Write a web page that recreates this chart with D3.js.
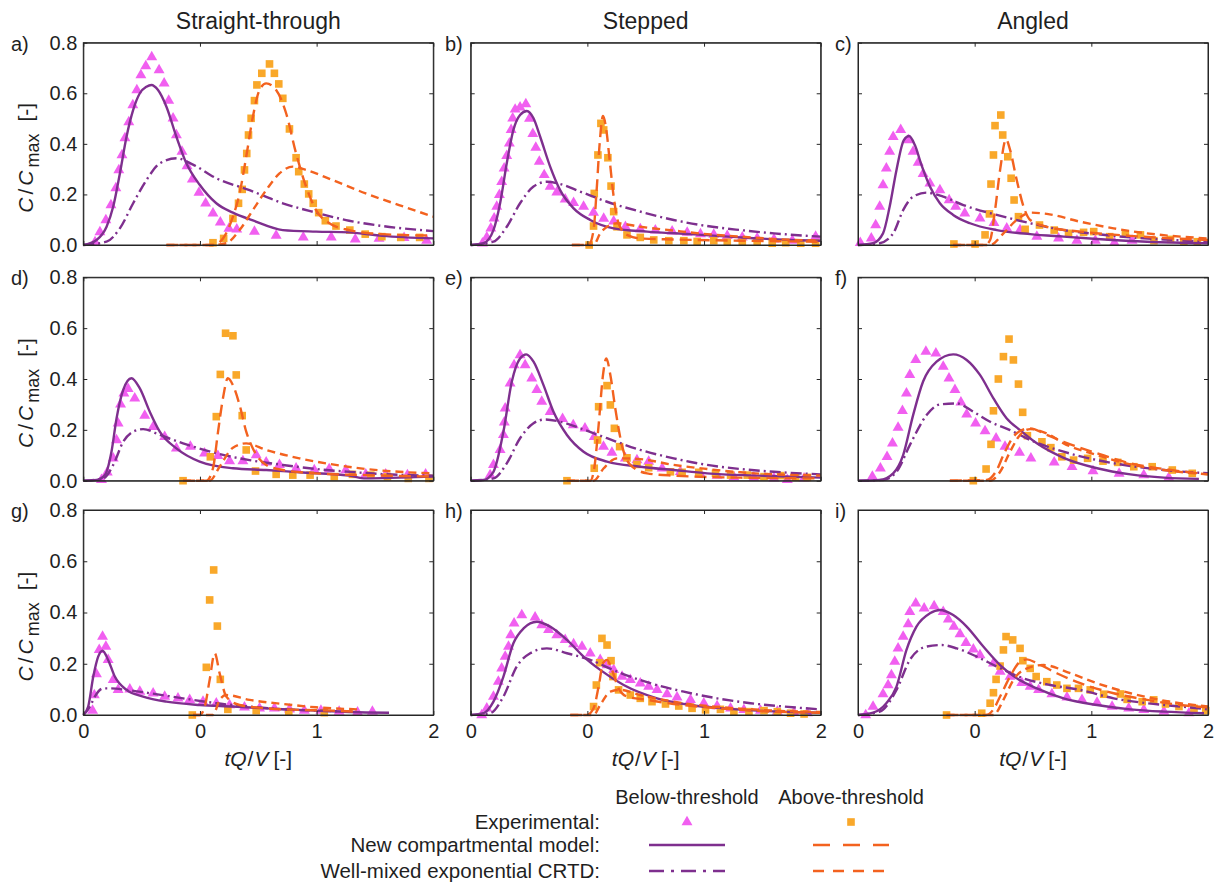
<!DOCTYPE html>
<html>
<head>
<meta charset="utf-8">
<script src="https://cdn.jsdelivr.net/npm/d3@7"></script>
<style>
  body { margin: 0; background: #fff; }
  svg { display: block; }
  text { font-family: "Liberation Sans", Arial, Helvetica, sans-serif; fill: #1f1f1f; }
</style>
</head>
<body>
<svg id="fig" width="1217" height="886"></svg>
<script>
// ---- axis ticks and labels ----
const xTickValues = [0, 2 / 3, 4 / 3, 2];
const xTickLabels = ["0", "0", "1", "2"];
const yTickValues = [0, 0.2, 0.4, 0.6, 0.8];
const columnTitles = ["Straight-through", "Stepped", "Angled"];
const panelLetters = ["a)", "b)", "c)", "d)", "e)", "f)", "g)", "h)", "i)"];

// ---- panel a: straight-through ----
const aExpBelow = [[0.067,0.012],[0.095,0.051],[0.129,0.099],[0.158,0.158],[0.186,0.225],[0.203,0.296],[0.221,0.356],[0.238,0.423],[0.260,0.486],[0.283,0.553],[0.306,0.613],[0.329,0.672],[0.357,0.708],[0.391,0.743],[0.433,0.692],[0.462,0.639],[0.488,0.571],[0.513,0.501],[0.532,0.435],[0.564,0.369],[0.593,0.312],[0.623,0.260],[0.661,0.207],[0.699,0.165],[0.741,0.125],[0.783,0.090],[0.832,0.065],[0.877,0.062],[0.978,0.053],[1.102,0.037],[1.257,0.030],[1.417,0.030],[1.554,0.022],[1.690,0.025],[1.833,0.028],[1.962,0.017]];
const aExpAbove = [[0.741,0.009],[0.802,0.026],[0.855,0.105],[0.887,0.165],[0.908,0.220],[0.921,0.297],[0.934,0.362],[0.944,0.435],[0.959,0.501],[0.978,0.571],[0.992,0.633],[1.020,0.679],[1.064,0.716],[1.092,0.679],[1.117,0.637],[1.140,0.580],[1.178,0.459],[1.216,0.345],[1.231,0.290],[1.263,0.241],[1.288,0.202],[1.314,0.165],[1.345,0.128],[1.383,0.096],[1.444,0.075],[1.523,0.059],[1.611,0.043],[1.706,0.033],[1.814,0.030],[1.922,0.030]];
const aModelBelow = [[0,0],[0.076,0.020],[0.133,0.072],[0.171,0.152],[0.209,0.283],[0.247,0.428],[0.285,0.534],[0.323,0.600],[0.361,0.626],[0.389,0.633],[0.427,0.613],[0.475,0.547],[0.532,0.428],[0.589,0.323],[0.665,0.238],[0.760,0.165],[0.855,0.128],[0.969,0.097],[1.140,0.059],[1.330,0.053],[1.519,0.050],[1.709,0.036],[2.0,0.026]];
const aMixedBelow = [[0,0],[0.133,0.013],[0.209,0.066],[0.285,0.165],[0.361,0.257],[0.437,0.323],[0.532,0.343],[0.627,0.318],[0.760,0.264],[0.950,0.217],[1.140,0.165],[1.330,0.128],[1.519,0.096],[1.709,0.075],[2.0,0.055]];
const aModelAbove = [[0.475,0],[0.741,0],[0.798,0.026],[0.855,0.112],[0.893,0.204],[0.931,0.349],[0.969,0.507],[1.007,0.613],[1.045,0.639],[1.102,0.613],[1.159,0.521],[1.216,0.362],[1.273,0.231],[1.330,0.138],[1.406,0.086],[1.519,0.059],[1.709,0.043],[2.0,0.037]];
const aMixedAbove = [[0.475,0],[0.741,0],[0.817,0.007],[0.893,0.059],[0.969,0.138],[1.045,0.217],[1.121,0.283],[1.197,0.310],[1.273,0.297],[1.424,0.257],[1.614,0.204],[1.804,0.158],[2.0,0.112]];

// ---- panel b: stepped ----
const bExpBelow = [[0.067,0.007],[0.092,0.030],[0.115,0.066],[0.134,0.105],[0.149,0.152],[0.164,0.198],[0.177,0.250],[0.191,0.303],[0.206,0.353],[0.221,0.402],[0.231,0.455],[0.240,0.501],[0.254,0.536],[0.282,0.544],[0.315,0.557],[0.336,0.500],[0.355,0.440],[0.372,0.385],[0.392,0.330],[0.420,0.277],[0.454,0.231],[0.492,0.208],[0.540,0.181],[0.588,0.167],[0.645,0.152],[0.702,0.128],[0.760,0.104],[0.817,0.094],[0.884,0.072],[0.969,0.063],[1.055,0.058],[1.151,0.054],[1.237,0.049],[1.313,0.043],[1.389,0.041],[1.466,0.036],[1.552,0.030],[1.637,0.026],[1.733,0.022],[1.838,0.017],[1.971,0.033]];
const bExpAbove = [[0.677,0.0],[0.702,0.075],[0.706,0.204],[0.727,0.356],[0.744,0.481],[0.760,0.455],[0.784,0.345],[0.802,0.233],[0.817,0.132],[0.836,0.072],[0.893,0.040],[0.969,0.030],[1.046,0.020],[1.132,0.017],[1.218,0.017],[1.294,0.014],[1.389,0.017],[1.466,0.011],[1.552,0.011],[1.637,0.011],[1.723,0.007],[1.800,0.009],[1.886,0.007],[1.971,0.007]];
const bModelBelow = [[0,0],[0.073,0.007],[0.130,0.059],[0.168,0.165],[0.206,0.323],[0.244,0.455],[0.282,0.514],[0.321,0.530],[0.359,0.501],[0.397,0.428],[0.454,0.310],[0.511,0.217],[0.588,0.145],[0.683,0.099],[0.817,0.066],[1.008,0.053],[1.256,0.043],[1.542,0.030],[1.828,0.020],[2.0,0.017]];
const bMixedBelow = [[0,0],[0.130,0.013],[0.206,0.072],[0.282,0.165],[0.359,0.231],[0.435,0.250],[0.511,0.241],[0.626,0.211],[0.779,0.171],[0.969,0.132],[1.160,0.099],[1.351,0.075],[1.542,0.059],[1.733,0.046],[2.0,0.033]];
const bModelAbove = [[0.578,0],[0.674,0],[0.702,0.059],[0.721,0.231],[0.737,0.402],[0.756,0.510],[0.775,0.455],[0.794,0.336],[0.817,0.191],[0.845,0.086],[0.893,0.040],[0.969,0.026],[1.160,0.022],[1.542,0.017],[2.0,0.013]];
const bMixedAbove = [[0.578,0],[0.702,0],[0.740,0.046],[0.779,0.072],[0.836,0.086],[0.969,0.072],[1.160,0.057],[1.351,0.043],[1.542,0.033],[1.733,0.024],[2.0,0.017]];

// ---- panel c: angled ----
const cExpBelow = [[0.013,0.009],[0.076,0.026],[0.101,0.079],[0.124,0.152],[0.143,0.237],[0.162,0.303],[0.181,0.369],[0.201,0.428],[0.244,0.455],[0.287,0.415],[0.315,0.369],[0.344,0.326],[0.372,0.281],[0.411,0.244],[0.468,0.217],[0.521,0.178],[0.558,0.152],[0.610,0.125],[0.697,0.105],[0.777,0.088],[0.850,0.066],[0.926,0.059],[1.022,0.033],[1.146,0.026],[1.251,0.017],[1.356,0.017],[1.465,0.009],[1.566,0.017]];
const cExpAbove = [[0.548,0.004],[0.669,0.004],[0.726,0.040],[0.751,0.123],[0.760,0.241],[0.774,0.356],[0.783,0.472],[0.816,0.514],[0.827,0.435],[0.856,0.349],[0.875,0.264],[0.892,0.178],[0.917,0.112],[0.955,0.062],[1.037,0.079],[1.121,0.059],[1.203,0.046],[1.289,0.050],[1.347,0.053],[1.438,0.033],[1.528,0.043],[1.614,0.040],[1.691,0.017],[1.786,0.022],[1.862,0.013],[1.939,0.013]];
const cModelBelow = [[0,0],[0.086,0.007],[0.143,0.046],[0.181,0.152],[0.220,0.297],[0.262,0.415],[0.292,0.431],[0.325,0.395],[0.363,0.316],[0.411,0.231],[0.468,0.165],[0.544,0.119],[0.640,0.086],[0.793,0.059],[0.984,0.043],[1.175,0.033],[1.366,0.024],[1.652,0.013],[2.0,0.007]];
const cMixedBelow = [[0,0],[0.124,0.007],[0.201,0.046],[0.258,0.138],[0.315,0.191],[0.392,0.207],[0.487,0.191],[0.602,0.158],[0.793,0.119],[0.984,0.086],[1.175,0.059],[1.366,0.043],[1.557,0.030],[1.748,0.022],[2.0,0.013]];
const cModelAbove = [[0.544,0],[0.726,0],[0.755,0.020],[0.783,0.138],[0.812,0.297],[0.846,0.418],[0.869,0.376],[0.907,0.257],[0.946,0.152],[0.984,0.099],[1.079,0.072],[1.270,0.053],[1.557,0.036],[2.0,0.020]];
const cMixedAbove = [[0.544,0],[0.755,0],[0.831,0.046],[0.907,0.099],[0.984,0.128],[1.079,0.123],[1.270,0.092],[1.461,0.066],[1.652,0.046],[2.0,0.026]];

// ---- panel d: straight-through ----
const dExpBelow = [[0.104,0.003],[0.137,0.033],[0.171,0.088],[0.190,0.160],[0.199,0.226],[0.213,0.300],[0.232,0.344],[0.256,0.361],[0.294,0.324],[0.351,0.256],[0.399,0.212],[0.465,0.173],[0.532,0.127],[0.612,0.134],[0.693,0.108],[0.769,0.098],[0.836,0.077],[0.912,0.077],[0.988,0.101],[1.045,0.072],[1.121,0.062],[1.216,0.049],[1.320,0.042],[1.405,0.046],[1.500,0.042],[1.614,0.025],[1.728,0.025],[1.852,0.022],[1.956,0.025]];
const dExpAbove = [[0.570,0.0],[0.726,0.094],[0.760,0.252],[0.783,0.418],[0.813,0.580],[0.855,0.570],[0.874,0.416],[0.908,0.256],[0.931,0.121],[0.984,0.038],[1.102,0.025],[1.197,0.022],[1.296,0.022],[1.434,0.016],[1.538,0.025],[1.643,0.022],[1.738,0.016],[1.857,0.009],[1.975,0.009]];
const dModelBelow = [[0,0],[0.076,0.003],[0.123,0.022],[0.161,0.114],[0.190,0.245],[0.228,0.357],[0.275,0.403],[0.323,0.363],[0.380,0.271],[0.437,0.193],[0.532,0.127],[0.665,0.075],[0.855,0.049],[1.045,0.042],[1.235,0.033],[1.519,0.020],[1.614,0.009],[1.804,0.012],[2.0,0.016]];
const dMixedBelow = [[0,0],[0.114,0.009],[0.171,0.062],[0.228,0.153],[0.285,0.193],[0.342,0.203],[0.437,0.180],[0.570,0.147],[0.760,0.108],[0.950,0.081],[1.140,0.062],[1.330,0.046],[1.519,0.035],[1.709,0.026],[2.0,0.020]];
const dModelAbove = [[0.570,0],[0.703,0],[0.741,0.049],[0.770,0.193],[0.798,0.324],[0.826,0.403],[0.855,0.376],[0.893,0.298],[0.931,0.193],[0.969,0.127],[1.045,0.062],[1.140,0.042],[1.330,0.029],[1.614,0.022],[2.0,0.016]];
const dMixedAbove = [[0.570,0],[0.722,0],[0.779,0.055],[0.855,0.130],[0.931,0.147],[1.045,0.121],[1.235,0.088],[1.424,0.064],[1.614,0.046],[1.804,0.035],[2.0,0.029]];

// ---- panel e: stepped ----
const eExpBelow = [[0.111,0.022],[0.130,0.062],[0.168,0.121],[0.187,0.180],[0.192,0.230],[0.197,0.285],[0.225,0.383],[0.248,0.455],[0.282,0.494],[0.311,0.455],[0.349,0.403],[0.378,0.357],[0.406,0.311],[0.454,0.271],[0.525,0.243],[0.586,0.219],[0.653,0.206],[0.706,0.173],[0.759,0.134],[0.807,0.111],[0.884,0.088],[0.950,0.081],[1.017,0.075],[1.094,0.049],[1.198,0.035],[1.313,0.025],[1.408,0.020],[1.504,0.014],[1.618,0.012],[1.733,0.009],[1.809,0.003],[1.905,0.009]];
const eExpAbove = [[0.550,0],[0.706,0.049],[0.725,0.160],[0.731,0.291],[0.779,0.374],[0.798,0.298],[0.821,0.206],[0.851,0.134],[0.893,0.090],[0.950,0.064],[1.017,0.051],[1.141,0.035],[1.208,0.033],[1.303,0.033],[1.399,0.029],[1.485,0.022],[1.580,0.022],[1.676,0.016],[1.771,0.020],[1.857,0.013],[1.924,0.013]];
const eModelBelow = [[0,0],[0.073,0.003],[0.130,0.035],[0.187,0.193],[0.235,0.390],[0.282,0.481],[0.317,0.497],[0.359,0.468],[0.416,0.376],[0.473,0.271],[0.550,0.180],[0.645,0.114],[0.779,0.075],[0.969,0.055],[1.160,0.042],[1.351,0.029],[1.637,0.020],[2.0,0.012]];
const eMixedBelow = [[0,0],[0.130,0.009],[0.206,0.068],[0.282,0.167],[0.359,0.226],[0.426,0.241],[0.511,0.232],[0.626,0.206],[0.779,0.167],[0.969,0.121],[1.160,0.088],[1.351,0.062],[1.542,0.046],[1.733,0.035],[2.0,0.025]];
const eModelAbove = [[0.550,0],[0.683,0],[0.706,0.049],[0.731,0.219],[0.756,0.416],[0.775,0.481],[0.798,0.416],[0.826,0.285],[0.864,0.140],[0.912,0.062],[1.008,0.029],[1.160,0.020],[1.542,0.012],[2.0,0.009]];
const eMixedAbove = [[0.550,0],[0.702,0],[0.760,0.049],[0.836,0.088],[0.969,0.085],[1.160,0.062],[1.351,0.046],[1.542,0.033],[1.733,0.025],[2.0,0.020]];

// ---- panel f: angled ----
const fExpBelow = [[0.082,0.016],[0.128,0.049],[0.166,0.094],[0.197,0.147],[0.229,0.209],[0.254,0.275],[0.277,0.344],[0.296,0.416],[0.330,0.475],[0.388,0.508],[0.445,0.501],[0.487,0.449],[0.520,0.403],[0.554,0.357],[0.588,0.308],[0.621,0.261],[0.672,0.226],[0.726,0.195],[0.789,0.167],[0.840,0.134],[0.923,0.111],[0.988,0.088],[1.121,0.072],[1.223,0.055],[1.343,0.038],[1.492,0.028],[1.633,0.022],[1.776,0.012]];
const fExpAbove = [[0.659,0],[0.732,0.046],[0.760,0.143],[0.774,0.275],[0.802,0.400],[0.831,0.488],[0.863,0.557],[0.888,0.475],[0.917,0.380],[0.941,0.269],[0.968,0.177],[1.051,0.153],[1.102,0.130],[1.165,0.094],[1.232,0.081],[1.312,0.088],[1.400,0.077],[1.484,0.072],[1.576,0.055],[1.681,0.055],[1.796,0.042],[1.910,0.029]];
const fModelBelow = [[0,0],[0.124,0.003],[0.201,0.029],[0.258,0.101],[0.315,0.258],[0.372,0.390],[0.449,0.468],[0.544,0.497],[0.621,0.475],[0.697,0.416],[0.774,0.324],[0.850,0.245],[0.926,0.199],[1.022,0.147],[1.175,0.090],[1.366,0.049],[1.557,0.025],[1.748,0.012],[1.948,0.007]];
const fMixedBelow = [[0,0],[0.143,0.003],[0.220,0.035],[0.296,0.140],[0.392,0.258],[0.468,0.300],[0.564,0.304],[0.659,0.271],[0.755,0.232],[0.869,0.199],[0.984,0.160],[1.175,0.114],[1.366,0.081],[1.557,0.058],[1.748,0.042],[2.0,0.029]];
const fModelAbove = [[0.525,0],[0.735,0.003],[0.793,0.042],[0.831,0.101],[0.888,0.173],[0.936,0.199],[0.984,0.206],[1.079,0.180],[1.175,0.153],[1.366,0.108],[1.557,0.068],[1.748,0.046],[2.0,0.025]];
const fMixedAbove = [[0.525,0],[0.755,0],[0.812,0.035],[0.869,0.114],[0.926,0.180],[0.984,0.203],[1.079,0.186],[1.175,0.147],[1.366,0.101],[1.557,0.064],[1.748,0.042],[2.0,0.025]];

// ---- panel g: straight-through ----
const gExpBelow = [[0.053,0.017],[0.063,0.078],[0.075,0.160],[0.091,0.254],[0.110,0.306],[0.129,0.267],[0.142,0.215],[0.171,0.137],[0.199,0.098],[0.266,0.100],[0.323,0.091],[0.399,0.085],[0.465,0.072],[0.541,0.065],[0.608,0.059],[0.684,0.052],[0.760,0.046],[0.836,0.039],[0.921,0.030],[1.007,0.026],[1.092,0.026],[1.178,0.022],[1.263,0.017],[1.358,0.017],[1.462,0.013],[1.567,0.010],[1.652,0.013]];
const gExpAbove = [[0.623,0],[0.703,0.186],[0.722,0.449],[0.745,0.566],[0.766,0.347],[0.783,0.139],[0.826,0.022],[0.988,0.017],[1.174,0.013],[1.377,0.009]];
const gModelBelow = [[0,0],[0.028,0.033],[0.057,0.150],[0.085,0.228],[0.110,0.251],[0.142,0.215],[0.180,0.150],[0.247,0.098],[0.342,0.072],[0.475,0.052],[0.665,0.039],[0.855,0.033],[1.045,0.026],[1.330,0.017],[1.614,0.010],[1.747,0.009]];
const gMixedBelow = [[0,0],[0.038,0.033],[0.066,0.072],[0.114,0.104],[0.152,0.104],[0.247,0.098],[0.380,0.085],[0.570,0.065],[0.760,0.046],[0.950,0.033],[1.140,0.022],[1.330,0.017],[1.538,0.013]];
const gModelAbove = [[0.627,0],[0.665,0],[0.694,0.033],[0.722,0.137],[0.751,0.241],[0.779,0.163],[0.817,0.072],[0.893,0.039],[1.045,0.026],[1.235,0.020],[1.425,0.017],[1.567,0.013]];
const gMixedAbove = [[0.627,0],[0.741,0],[0.779,0.059],[0.817,0.078],[0.950,0.059],[1.140,0.043],[1.330,0.030],[1.567,0.022]];

// ---- panel h: stepped ----
const hExpBelow = [[0.063,0],[0.092,0.026],[0.130,0.072],[0.158,0.130],[0.177,0.182],[0.197,0.228],[0.216,0.267],[0.229,0.312],[0.248,0.358],[0.292,0.390],[0.368,0.381],[0.406,0.351],[0.445,0.332],[0.492,0.312],[0.540,0.293],[0.588,0.277],[0.636,0.267],[0.683,0.241],[0.740,0.215],[0.779,0.195],[0.817,0.176],[0.865,0.150],[0.912,0.137],[0.969,0.124],[1.017,0.111],[1.065,0.098],[1.122,0.082],[1.179,0.069],[1.256,0.059],[1.332,0.046],[1.408,0.035],[1.485,0.026],[1.561,0.020],[1.656,0.017],[1.752,0.013],[1.847,0.009],[1.924,0.007]];
const hExpAbove = [[0.702,0.033],[0.718,0.117],[0.737,0.204],[0.750,0.299],[0.779,0.273],[0.802,0.212],[0.813,0.150],[0.845,0.098],[0.912,0.078],[0.969,0.065],[1.036,0.052],[1.113,0.043],[1.189,0.035],[1.265,0.026],[1.342,0.020],[1.427,0.022],[1.504,0.013],[1.590,0.013],[1.676,0.017],[1.752,0.013],[1.828,0.007],[1.905,0.004]];
const hModelBelow = [[0,0],[0.073,0.007],[0.130,0.052],[0.187,0.150],[0.244,0.280],[0.302,0.338],[0.378,0.364],[0.454,0.345],[0.550,0.293],[0.645,0.228],[0.740,0.176],[0.874,0.117],[1.065,0.065],[1.256,0.039],[1.447,0.026],[1.637,0.017],[2.0,0.009]];
const hMixedBelow = [[0,0],[0.111,0.007],[0.187,0.072],[0.263,0.189],[0.340,0.241],[0.435,0.260],[0.550,0.241],[0.683,0.215],[0.836,0.169],[1.027,0.124],[1.218,0.091],[1.408,0.065],[1.599,0.046],[1.790,0.033],[2.0,0.022]];
const hModelAbove = [[0.569,0],[0.664,0],[0.702,0.026],[0.731,0.111],[0.756,0.202],[0.779,0.215],[0.807,0.176],[0.845,0.104],[0.893,0.072],[1.008,0.059],[1.160,0.043],[1.351,0.030],[1.542,0.020],[1.733,0.013],[2.0,0.009]];
const hMixedAbove = [[0.569,0],[0.702,0],[0.740,0.039],[0.798,0.091],[0.855,0.098],[0.969,0.078],[1.160,0.052],[1.351,0.035],[1.542,0.025],[1.733,0.017],[2.0,0.012]];

// ---- panel i: angled ----
const iExpBelow = [[0.044,0],[0.086,0.033],[0.143,0.082],[0.172,0.117],[0.191,0.156],[0.210,0.208],[0.229,0.260],[0.258,0.306],[0.287,0.355],[0.296,0.403],[0.330,0.436],[0.378,0.416],[0.435,0.425],[0.487,0.403],[0.516,0.373],[0.548,0.345],[0.583,0.316],[0.617,0.282],[0.659,0.256],[0.697,0.234],[0.774,0.202],[0.812,0.169],[0.869,0.150],[0.936,0.126],[0.984,0.111],[1.032,0.098],[1.108,0.082],[1.194,0.069],[1.280,0.059],[1.366,0.048],[1.452,0.033],[1.547,0.026],[1.633,0.020],[1.748,0.013],[1.891,0.007]];
const iExpAbove = [[0.506,0],[0.707,0.007],[0.755,0.046],[0.774,0.087],[0.789,0.139],[0.812,0.191],[0.831,0.254],[0.846,0.306],[0.884,0.293],[0.926,0.260],[0.942,0.212],[0.984,0.182],[1.018,0.150],[1.079,0.130],[1.136,0.117],[1.194,0.104],[1.260,0.104],[1.327,0.098],[1.404,0.081],[1.500,0.082],[1.538,0.061],[1.624,0.052],[1.690,0.059],[1.757,0.043],[1.834,0.033],[1.920,0.026],[1.987,0.017]];
const iModelBelow = [[0,0],[0.086,0.009],[0.162,0.046],[0.220,0.111],[0.277,0.254],[0.334,0.345],[0.411,0.397],[0.468,0.410],[0.544,0.390],[0.621,0.345],[0.716,0.267],[0.812,0.195],[0.907,0.143],[1.022,0.104],[1.175,0.065],[1.366,0.039],[1.557,0.022],[1.748,0.013],[1.977,0.007]];
const iMixedBelow = [[0,0],[0.124,0.013],[0.220,0.098],[0.296,0.215],[0.392,0.267],[0.478,0.273],[0.564,0.260],[0.678,0.228],[0.793,0.189],[0.946,0.143],[1.098,0.117],[1.270,0.098],[1.461,0.065],[1.652,0.046],[1.843,0.033],[2.0,0.022]];
const iModelAbove = [[0.506,0],[0.735,0],[0.774,0.022],[0.812,0.072],[0.869,0.150],[0.926,0.208],[0.965,0.217],[1.022,0.202],[1.136,0.163],[1.270,0.124],[1.461,0.085],[1.652,0.059],[1.843,0.039],[2.0,0.030]];
const iMixedAbove = [[0.506,0],[0.774,0],[0.831,0.059],[0.888,0.137],[0.946,0.176],[1.060,0.195],[1.213,0.163],[1.366,0.124],[1.557,0.085],[1.748,0.056],[2.0,0.033]];

// ---- legend text ----
const legendHeaders = ["Below-threshold", "Above-threshold"];
const legendRows = ["Experimental:", "New compartmental model:", "Well-mixed exponential CRTD:"];

// panel table assembled from the arrays above
const panels = [
  [aExpBelow, aExpAbove, aModelBelow, aModelAbove, aMixedBelow, aMixedAbove],
  [bExpBelow, bExpAbove, bModelBelow, bModelAbove, bMixedBelow, bMixedAbove],
  [cExpBelow, cExpAbove, cModelBelow, cModelAbove, cMixedBelow, cMixedAbove],
  [dExpBelow, dExpAbove, dModelBelow, dModelAbove, dMixedBelow, dMixedAbove],
  [eExpBelow, eExpAbove, eModelBelow, eModelAbove, eMixedBelow, eMixedAbove],
  [fExpBelow, fExpAbove, fModelBelow, fModelAbove, fMixedBelow, fMixedAbove],
  [gExpBelow, gExpAbove, gModelBelow, gModelAbove, gMixedBelow, gMixedAbove],
  [hExpBelow, hExpAbove, hModelBelow, hModelAbove, hMixedBelow, hMixedAbove],
  [iExpBelow, iExpAbove, iModelBelow, iModelAbove, iMixedBelow, iMixedAbove]
].map((s, k) => ({
  letter: panelLetters[k],
  expBelow: s[0], expAbove: s[1],
  modelBelow: s[2], modelAbove: s[3],
  mixedBelow: s[4], mixedAbove: s[5]
}));

// ---- layout and styles ----
const COL_LEFT = [83.3, 470.7, 858];
const PLOT_W = 350;
const ROW_TOP = [42.7, 277.3, 510];
const ROW_BOTTOM = [245, 480.7, 715];
const LETTER_X = [11, 445, 835];

const PURPLE = "#7e2f8e";
const ORANGE = "#f3621f";
const TRI_FILL = "#f15ff0";
const SQ_FILL = "#f9a82a";
const AXIS = "#262626";
const FONT = 20;

const DASH_LONG = "12,6";
const DASH_SHORT = "8,5";
const DASH_DOT = "11,4,2,4";

const svg = d3.select("#fig");
const triPath = d3.symbol(d3.symbolTriangle, 52)();
const sqPath = d3.symbol(d3.symbolSquare, 58)();

// column titles
columnTitles.forEach((t, c) => {
  svg.append("text")
    .attr("x", COL_LEFT[c] + PLOT_W / 2)
    .attr("y", 29)
    .attr("text-anchor", "middle")
    .attr("font-size", 23)
    .text(t);
});

panels.forEach((p, k) => {
  const r = Math.floor(k / 3), c = k % 3;
  const x = d3.scaleLinear().domain([0, 2]).range([COL_LEFT[c], COL_LEFT[c] + PLOT_W]);
  const y = d3.scaleLinear().domain([0, 0.8]).range([ROW_BOTTOM[r], ROW_TOP[r]]);
  const g = svg.append("g");

  // experimental markers
  g.append("g").selectAll("path").data(p.expBelow).join("path")
    .attr("d", triPath)
    .attr("transform", d => `translate(${x(d[0])},${y(d[1])})`)
    .attr("fill", TRI_FILL);
  g.append("g").selectAll("path").data(p.expAbove).join("path")
    .attr("d", sqPath)
    .attr("transform", d => `translate(${x(d[0])},${y(d[1])})`)
    .attr("fill", SQ_FILL);

  // model curves
  const line = d3.line().x(d => x(d[0])).y(d => y(d[1])).curve(d3.curveMonotoneX);
  const curves = [
    [p.mixedBelow, PURPLE, DASH_DOT],
    [p.modelBelow, PURPLE, null],
    [p.mixedAbove, ORANGE, DASH_SHORT],
    [p.modelAbove, ORANGE, DASH_LONG]
  ];
  curves.forEach(([data, col, dash]) => {
    g.append("path")
      .attr("d", line(data))
      .attr("fill", "none")
      .attr("stroke", col)
      .attr("stroke-width", 2.4)
      .attr("stroke-dasharray", dash);
  });

  // axes with inward ticks on all four sides
  const styleAxis = sel => {
    sel.selectAll("line").attr("stroke", AXIS);
    sel.selectAll("path").attr("stroke", AXIS);
    sel.selectAll("text").attr("font-size", FONT).attr("fill", "#1f1f1f")
      .attr("font-family", '"Liberation Sans", Arial, sans-serif');
  };
  svg.append("g").attr("transform", `translate(0,${ROW_BOTTOM[r]})`)
    .call(d3.axisBottom(x).tickValues(xTickValues).tickSizeInner(-4).tickSizeOuter(0).tickPadding(9)
      .tickFormat((d, i) => r === 2 ? xTickLabels[i] : ""))
    .call(styleAxis);
  svg.append("g").attr("transform", `translate(0,${ROW_TOP[r]})`)
    .call(d3.axisTop(x).tickValues(xTickValues).tickSizeInner(-4).tickSizeOuter(0).tickFormat(""))
    .call(styleAxis);
  svg.append("g").attr("transform", `translate(${COL_LEFT[c]},0)`)
    .call(d3.axisLeft(y).tickValues(yTickValues).tickSizeInner(-4).tickSizeOuter(0).tickPadding(6)
      .tickFormat(c === 0 ? d3.format(".1f") : ""))
    .call(styleAxis);
  svg.append("g").attr("transform", `translate(${COL_LEFT[c] + PLOT_W},0)`)
    .call(d3.axisRight(y).tickValues(yTickValues).tickSizeInner(-4).tickSizeOuter(0).tickFormat(""))
    .call(styleAxis);
  svg.selectAll(".domain").attr("stroke-width", 1);

  // panel letter
  svg.append("text")
    .attr("x", LETTER_X[c])
    .attr("y", ROW_TOP[r] + 8)
    .attr("font-size", FONT)
    .text(p.letter);

  // y-axis title on the first column
  if (c === 0) {
    const cy = (ROW_TOP[r] + ROW_BOTTOM[r]) / 2 + 14;
    const t = svg.append("text")
      .attr("transform", `translate(33,${cy}) rotate(-90)`)
      .attr("text-anchor", "middle")
      .attr("font-size", 21);
    t.append("tspan").attr("font-style", "italic").text("C");
    t.append("tspan").attr("dx", 3).text("/");
    t.append("tspan").attr("dx", 3).attr("font-style", "italic").text("C");
    t.append("tspan").attr("dy", 6).attr("dx", 3).attr("font-size", 18).text("max");
    t.append("tspan").attr("dy", -6).attr("dx", 12).text("[-]");
  }

  // x-axis title on the bottom row
  if (r === 2) {
    const t = svg.append("text")
      .attr("x", COL_LEFT[c] + PLOT_W / 2)
      .attr("y", 766)
      .attr("text-anchor", "middle")
      .attr("font-size", 21);
    t.append("tspan").attr("font-style", "italic").text("tQ");
    t.append("tspan").attr("dx", 1).text("/");
    t.append("tspan").attr("dx", 1).attr("font-style", "italic").text("V");
    t.append("tspan").attr("dx", 5).text("[-]");
  }

  // plot frame
  svg.append("rect")
    .attr("x", COL_LEFT[c]).attr("y", ROW_TOP[r])
    .attr("width", PLOT_W).attr("height", ROW_BOTTOM[r] - ROW_TOP[r])
    .attr("fill", "none").attr("stroke", AXIS).attr("stroke-width", 1);
});

// ---- legend ----
const lg = svg.append("g");
const LEG_COL = [687, 851];
const LEG_ROW_Y = [822, 845, 871];
legendHeaders.forEach((t, i) => {
  lg.append("text").attr("x", LEG_COL[i]).attr("y", 804)
    .attr("text-anchor", "middle").attr("font-size", FONT).text(t);
});
legendRows.forEach((t, i) => {
  lg.append("text").attr("x", 600).attr("y", LEG_ROW_Y[i] + 7)
    .attr("text-anchor", "end").attr("font-size", 20.5).text(t);
});
lg.append("path").attr("d", triPath).attr("fill", TRI_FILL)
  .attr("transform", `translate(${LEG_COL[0]},${LEG_ROW_Y[0]})`);
lg.append("path").attr("d", sqPath).attr("fill", SQ_FILL)
  .attr("transform", `translate(${LEG_COL[1]},${LEG_ROW_Y[0]})`);
const legLines = [
  [LEG_COL[0], LEG_ROW_Y[1], PURPLE, null],
  [LEG_COL[1], LEG_ROW_Y[1], ORANGE, "17,13"],
  [LEG_COL[0], LEG_ROW_Y[2], PURPLE, "15,7,3,7"],
  [LEG_COL[1], LEG_ROW_Y[2], ORANGE, "11,9"]
];
legLines.forEach(([cx, cy, col, dash]) => {
  lg.append("line")
    .attr("x1", cx - 38).attr("x2", cx + 38)
    .attr("y1", cy).attr("y2", cy)
    .attr("stroke", col).attr("stroke-width", 2.4)
    .attr("stroke-dasharray", dash);
});
</script>
</body>
</html>
